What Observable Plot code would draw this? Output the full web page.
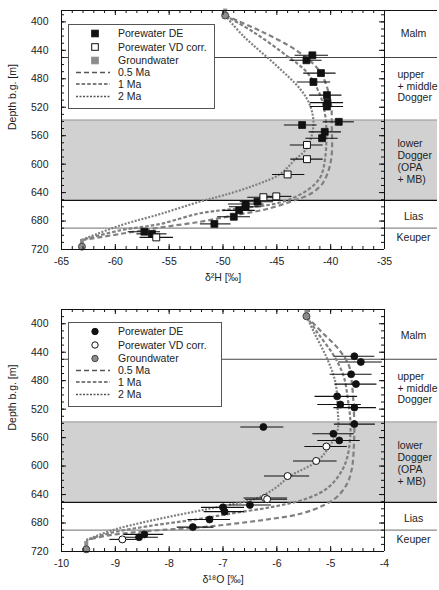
<!DOCTYPE html>
<html><head><meta charset="utf-8">
<script src="https://cdn.jsdelivr.net/npm/d3@7"></script>
<script src="https://cdn.jsdelivr.net/npm/@observablehq/plot@0.6"></script>
<style>
body{margin:0;background:#fff;font-family:"Liberation Sans",Arial,sans-serif;}
.panel{position:relative;width:439px;}
.panel svg.legend{position:absolute;overflow:visible;}
</style></head><body>
<div id="top" class="panel"></div>
<div id="bot" class="panel"></div>
<script>
// ---------------- data ----------------
const depthTicks = [400, 440, 480, 520, 560, 600, 640, 680, 720];
const h2Ticks = [-65, -60, -55, -50, -45, -40, -35];
const o18Ticks = [-10, -9, -8, -7, -6, -5, -4];

const formationNames = ["Malm", "upper\n+ middle\nDogger", "lower\nDogger\n(OPA\n+ MB)", "Lias", "Keuper"];
const formationLabelDepth = [417, 490, 596, 674, 704];
const boundaryDepth = [450, 651, 690];
const opaDepth = [538, 651];

const seriesNames = ["Porewater DE", "Porewater VD corr.", "Groundwater"];
const modelNames = ["0.5 Ma", "1 Ma", "2 Ma"];

// δ2H panel
const h2DeDepth = [447, 454, 472, 484.5, 503, 513.5, 519, 540.5, 545, 554.6, 563.5, 652.8, 656, 660, 665, 674, 684, 695, 698];
const h2DeValue = [-41.7, -42.25, -40.9, -41.6, -40.35, -40.3, -40.35, -39.25, -42.65, -40.55, -40.8, -46.8, -47.9, -47.9, -48.5, -49.0, -50.8, -57.3, -56.6];
const h2DeLow = [-43.3, -43.8, -42.5, -43.1, -41.95, -41.9, -41.9, -40.7, -44.3, -42.0, -42.3, -48.4, -49.5, -49.4, -50.0, -50.5, -52.1, -58.8, -58.0];
const h2DeHigh = [-40.2, -40.8, -39.5, -40.0, -38.95, -38.8, -38.8, -37.8, -41.25, -39.0, -39.3, -45.3, -46.2, -46.4, -47.0, -47.45, -49.25, -55.8, -55.2];
const h2VdDepth = [573, 593, 614.5, 645.3, 646.5, 703];
const h2VdValue = [-42.2, -42.2, -44.0, -45.05, -46.25, -56.2];
const h2VdLow = [-43.75, -43.7, -45.4, -46.3, -47.7, -57.7];
const h2VdHigh = [-40.7, -40.7, -42.4, -43.6, -44.7, -54.6];
const h2GwDepth = [391, 716];
const h2GwTop = [382, 706];
const h2GwValue = [-49.8, -63.1];
const h2M05Depth = [391, 413, 441, 471, 513, 546, 586, 609, 628, 642, 651, 663, 672, 681, 689, 698, 707];
const h2M05Value = [-49.8, -46.5, -43.1, -40.95, -40.0, -39.9, -39.9, -40.2, -40.8, -41.9, -43.4, -45.9, -49.0, -52.1, -55.8, -59.5, -63.2];
const h2M1Depth = [391, 415, 448, 471, 504, 532, 558, 590, 618, 637, 654, 662, 669, 684, 693, 707];
const h2M1Value = [-49.8, -47.1, -44.05, -42.2, -40.95, -40.5, -40.4, -40.5, -40.95, -42.2, -44.7, -48.4, -52.1, -55.8, -59.5, -63.2];
const h2M2Depth = [391, 420, 462, 495, 518, 545, 577, 595, 614, 630, 644, 652, 670, 686, 707];
const h2M2Value = [-49.8, -48.1, -45.0, -42.8, -41.9, -41.6, -42.2, -43.4, -44.7, -47.1, -50.0, -52.0, -55.8, -59.5, -63.2];

// δ18O panel
const o18DeDepth = [445.7, 453.7, 471, 484.8, 502, 513.5, 517.8, 541, 545, 554.6, 564, 654.6, 658, 664, 675, 685.7, 696, 700];
const o18DeValue = [-4.56, -4.44, -4.62, -4.53, -4.88, -4.82, -4.56, -4.56, -6.25, -4.95, -4.84, -6.50, -7.0, -6.97, -7.25, -7.56, -8.46, -8.56];
const o18DeLow = [-4.94, -4.85, -5.01, -4.92, -5.29, -5.24, -4.94, -4.93, -6.67, -5.33, -5.24, -6.9, -7.4, -7.35, -7.65, -7.85, -8.84, -8.9];
const o18DeHigh = [-4.18, -4.04, -4.23, -4.14, -4.50, -4.43, -4.15, -4.17, -5.87, -4.56, -4.45, -6.1, -6.6, -6.6, -6.86, -7.17, -8.1, -8.2];
const o18VdDepth = [572.5, 592.8, 614, 644.8, 646.5, 703];
const o18VdValue = [-5.08, -5.27, -5.80, -6.22, -6.18, -8.87];
const o18VdLow = [-5.48, -5.69, -6.23, -6.61, -6.58, -9.1];
const o18VdHigh = [-4.69, -4.88, -5.39, -5.80, -5.80, -8.6];
const o18GwDepth = [389.5, 717];
const o18GwTop = [380, 706];
const o18GwValue = [-5.45, -9.54];
const o18M05Depth = [389.5, 412, 436, 459, 488, 521, 549, 573, 601, 624, 643, 655, 667, 675, 681, 686, 691, 697, 704];
const o18M05Value = [-5.45, -5.16, -4.85, -4.66, -4.60, -4.57, -4.56, -4.57, -4.60, -4.69, -4.88, -5.13, -5.56, -6.18, -6.80, -7.42, -8.35, -9.09, -9.54];
const o18M1Depth = [389.5, 412, 445, 473.5, 506.5, 544, 587, 610, 631, 645.5, 657, 666, 674, 684, 694, 704];
const o18M1Value = [-5.45, -5.25, -4.94, -4.76, -4.68, -4.63, -4.69, -4.82, -5.06, -5.44, -6.06, -6.80, -7.42, -8.35, -9.09, -9.54];
const o18M2Depth = [389.5, 412, 450, 483, 520, 549, 572, 593, 614, 632, 646, 656, 676, 690, 704];
const o18M2Value = [-5.45, -5.31, -5.06, -4.91, -4.87, -4.87, -5.02, -5.25, -5.75, -6.05, -6.4, -7.0, -8.3, -9.05, -9.54];

// ---------------- drawing ----------------
const FONT = "'Liberation Sans', Arial, sans-serif";
const curveGray = "#808080";
const modelDash = ["5,3", "3.6,2", "2,1.5"];

function rows(depth, value, low, high) {
  return depth.map((d, i) => ({depth: d, value: value[i], lo: low ? low[i] : undefined, hi: high ? high[i] : undefined}));
}

function makePanel(cfg) {
  const [xa, xb] = d3.extent(cfg.xTicks);
  const [ya, yb] = cfg.yDomain;
  const de = rows(cfg.deDepth, cfg.deValue, cfg.deLow, cfg.deHigh);
  const vd = rows(cfg.vdDepth, cfg.vdValue, cfg.vdLow, cfg.vdHigh);
  const gw = cfg.gwDepth.map((d, i) => ({depth: d, top: cfg.gwTop[i], value: cfg.gwValue[i]}));
  const xMinor = d3.range(0, Math.round((xb - xa) / cfg.xMinorStep) + 1).map(k => xa + k * cfg.xMinorStep);
  const yMinor = d3.range(Math.ceil(ya / 10) * 10, yb + 1, 10);
  const forms = formationNames.map((name, i) => ({name, depth: formationLabelDepth[i]}));
  const single = forms.filter(f => !f.name.includes("\n"));
  const multi = forms.filter(f => f.name.includes("\n"));
  const sym = cfg.symbol;
  const r = sym === "square" ? 3.9 : 3.5;

  const marks = [
    Plot.rect([opaDepth], {y1: d => d[0], y2: d => d[1], fill: "#d1d1d1"}),
    Plot.ruleY([opaDepth[0]], {stroke: "#9a9a9a", strokeWidth: 1}),
    Plot.ruleY([boundaryDepth[0]], {stroke: "#444", strokeWidth: 1.1}),
    Plot.ruleY([boundaryDepth[1]], {stroke: "#111", strokeWidth: 1.1}),
    Plot.ruleY([boundaryDepth[2]], {stroke: "#8a8a8a", strokeWidth: 1.4}),
    ...cfg.models.map((m, k) => Plot.line(m.depth.map((d, i) => ({depth: d, value: m.value[i]})), {
      x: "value", y: "depth", stroke: curveGray, strokeWidth: 2.2, strokeDasharray: modelDash[k],
      strokeLinecap: "butt", curve: "catmull-rom"
    })),
    Plot.ruleY(de, {y: "depth", x1: "lo", x2: "hi", stroke: "#111", strokeWidth: 1.1}),
    Plot.ruleY(vd, {y: "depth", x1: "lo", x2: "hi", stroke: "#111", strokeWidth: 1.1}),
    Plot.ruleX(gw, {x: "value", y1: "top", y2: "depth", stroke: "#8c8c8c", strokeWidth: 4}),
    Plot.dot(gw, {x: "value", y: "depth", r: 3.5, symbol: "circle", fill: "#8c8c8c", stroke: "#444", strokeWidth: 1}),
    Plot.dot(de, {x: "value", y: "depth", r, symbol: sym, fill: "#111", stroke: "#111", strokeWidth: 0.8}),
    Plot.dot(vd, {x: "value", y: "depth", r, symbol: sym, fill: "#fff", stroke: "#111", strokeWidth: 1}),
    Plot.ruleX([xa, xb], {y1: ya, y2: yb, stroke: "#111", strokeWidth: 1}),
    cfg.topAcross ? Plot.ruleY([ya], {stroke: "#111", strokeWidth: 1}) : Plot.ruleY([ya], {x1: xa, x2: xb, stroke: "#111", strokeWidth: 1}),
    Plot.ruleY([yb], {x1: xa, x2: xb, stroke: "#111", strokeWidth: 1}),
    Plot.ruleY(yMinor, {y: d => d, x1: xa, x2: xa, insetRight: -3, stroke: "#111"}),
    Plot.ruleY(depthTicks, {y: d => d, x1: xa, x2: xa, insetRight: -5, stroke: "#111"}),
    Plot.ruleY(yMinor, {y: d => d, x1: xb, x2: xb, insetLeft: -3, stroke: "#111"}),
    Plot.ruleY(depthTicks, {y: d => d, x1: xb, x2: xb, insetLeft: -5, stroke: "#111"}),
    Plot.ruleX(xMinor, {x: d => d, y1: ya, y2: ya, insetBottom: -3, stroke: "#111"}),
    Plot.ruleX(cfg.xTicks, {x: d => d, y1: ya, y2: ya, insetBottom: -5, stroke: "#111"}),
    Plot.ruleX(xMinor, {x: d => d, y1: yb, y2: yb, insetTop: -3, stroke: "#111"}),
    Plot.ruleX(cfg.xTicks, {x: d => d, y1: yb, y2: yb, insetTop: -5, stroke: "#111"}),
    Plot.axisX({ticks: cfg.xTicks, tickSize: 0, tickPadding: 8, tickFormat: d => String(d), label: null, fontSize: 10.5}),
    Plot.axisY({ticks: depthTicks, tickSize: 0, tickPadding: 13, tickFormat: d => String(d), label: null, fontSize: 10.5}),
    Plot.text([cfg.xLabel], {x: (xa + xb) / 2, frameAnchor: "bottom", dy: 31, fontSize: 10.5, fill: "#222"}),
    Plot.text(["Depth b.g. [m]"], {frameAnchor: "left", rotate: -90, dx: -49, fontSize: 10.5, fill: "#222"}),
    Plot.text(single, {x: xb, y: "depth", text: "name", dx: 29, textAnchor: "middle", fontSize: 10.5, fill: "#222"}),
    Plot.text(multi, {x: xb, y: "depth", text: "name", dx: 13, textAnchor: "start", lineHeight: 1.12, fontSize: 10.5, fill: "#222"})
  ];

  const plot = Plot.plot({
    width: 439, height: cfg.height,
    marginLeft: 61, marginRight: 2, marginTop: cfg.marginTop, marginBottom: cfg.marginBottom,
    x: {domain: [xa, xb], range: [61, 384], axis: null},
    y: {domain: cfg.yDomain, reverse: true, axis: null},
    style: {fontFamily: FONT, fontSize: "10.5px", color: "#222", background: "#fff"},
    marks
  });
  // the three model lines are the only line marks; put their dash pattern on the paths too
  d3.select(plot).selectAll('g[aria-label="line"]').each(function(_, k) {
    d3.select(this).selectAll("path").attr("stroke-dasharray", modelDash[k]).attr("stroke-linecap", "butt");
  });
  return plot;
}

function addLegend(container, cfg) {
  const [lx, ly, lw, lh] = cfg.box;
  const svg = d3.select(container).append("svg").attr("class", "legend")
    .style("left", lx + "px").style("top", ly + "px")
    .attr("width", lw).attr("height", lh)
    .style("font-family", FONT).style("font-size", "10.5px");
  svg.append("rect").attr("x", 0.5).attr("y", 0.5).attr("width", lw - 1).attr("height", lh - 1)
    .attr("fill", "#fff").attr("stroke", "#555").attr("stroke-width", 1);
  const rowY = [9.5, 23, 36.5, 48.5, 60, 72.5];
  const symX = 27, textX = 50;
  const sq = cfg.symbol === "square";
  const styles = [{fill: "#111", stroke: "#111"}, {fill: "#fff", stroke: "#111"}, {fill: "#8c8c8c", stroke: sq ? "#8c8c8c" : "#444"}];
  seriesNames.forEach((name, i) => {
    const s = styles[i];
    if (sq) {
      svg.append("rect").attr("x", symX - 3.3).attr("y", rowY[i] - 3.3).attr("width", 6.6).attr("height", 6.6)
        .attr("fill", s.fill).attr("stroke", s.stroke).attr("stroke-width", 1);
    } else {
      svg.append("circle").attr("cx", symX).attr("cy", rowY[i]).attr("r", 3.2)
        .attr("fill", s.fill).attr("stroke", s.stroke).attr("stroke-width", 1);
    }
    svg.append("text").attr("x", textX).attr("y", rowY[i]).attr("dy", "0.35em").attr("fill", "#222").text(name);
  });
  modelNames.forEach((name, k) => {
    const y = rowY[3 + k];
    svg.append("line").attr("x1", 8).attr("x2", 42).attr("y1", y).attr("y2", y)
      .attr("stroke", "#555").attr("stroke-width", 1.6).attr("stroke-dasharray", modelDash[k]);
    svg.append("text").attr("x", textX).attr("y", y).attr("dy", "0.35em").attr("fill", "#222").text(name);
  });
}

const topCfg = {
  xTicks: h2Ticks, xMinorStep: 1, yDomain: [384, 720], height: 290, marginTop: 10, marginBottom: 41,
  xLabel: "δ²H [‰]", symbol: "square", topAcross: true,
  deDepth: h2DeDepth, deValue: h2DeValue, deLow: h2DeLow, deHigh: h2DeHigh,
  vdDepth: h2VdDepth, vdValue: h2VdValue, vdLow: h2VdLow, vdHigh: h2VdHigh,
  gwDepth: h2GwDepth, gwTop: h2GwTop, gwValue: h2GwValue,
  models: [{depth: h2M05Depth, value: h2M05Value}, {depth: h2M1Depth, value: h2M1Value}, {depth: h2M2Depth, value: h2M2Value}]
};
const botCfg = {
  xTicks: o18Ticks, xMinorStep: 0.2, yDomain: [380, 720], height: 300, marginTop: 19, marginBottom: 39,
  xLabel: "δ¹⁸O [‰]", symbol: "circle", topAcross: false,
  deDepth: o18DeDepth, deValue: o18DeValue, deLow: o18DeLow, deHigh: o18DeHigh,
  vdDepth: o18VdDepth, vdValue: o18VdValue, vdLow: o18VdLow, vdHigh: o18VdHigh,
  gwDepth: o18GwDepth, gwTop: o18GwTop, gwValue: o18GwValue,
  models: [{depth: o18M05Depth, value: o18M05Value}, {depth: o18M1Depth, value: o18M1Value}, {depth: o18M2Depth, value: o18M2Value}]
};

const topDiv = document.getElementById("top");
const botDiv = document.getElementById("bot");
topDiv.appendChild(makePanel(topCfg));
botDiv.appendChild(makePanel(botCfg));
addLegend(topDiv, {box: [68, 24, 147, 85], symbol: "square"});
addLegend(botDiv, {box: [68, 32, 154, 85], symbol: "circle"});
</script>
</body></html>
